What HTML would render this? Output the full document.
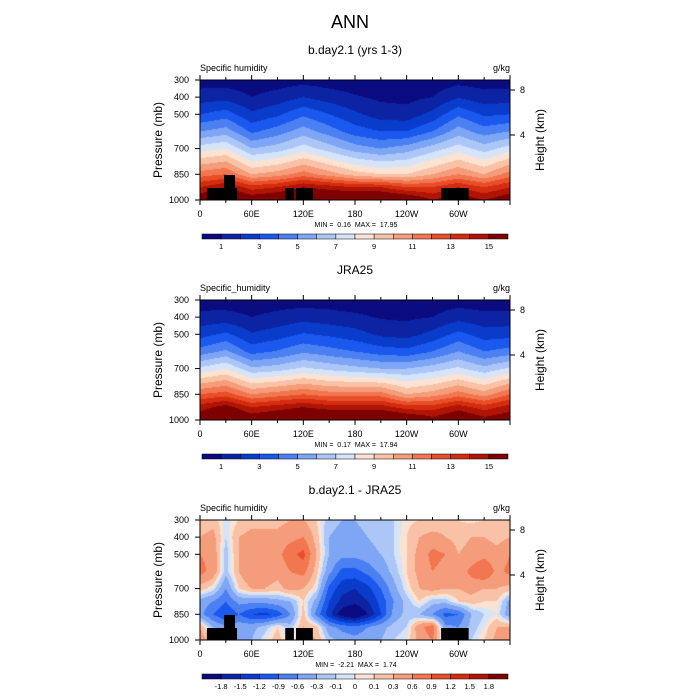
<!DOCTYPE html>
<html><head><meta charset="utf-8"><style>
body{margin:0;background:#fff;}
#wrap{position:relative;width:700px;height:700px;overflow:hidden;font-family:"Liberation Sans",sans-serif;}
canvas{position:absolute;}
svg{position:absolute;left:0;top:0;}
</style></head><body>
<div id="wrap">
<canvas id="c0" width="310" height="120" style="left:200px;top:80px"></canvas>
<canvas id="c1" width="310" height="120" style="left:200px;top:300px"></canvas>
<canvas id="c2" width="310" height="120" style="left:200px;top:520px"></canvas>
<svg id="s" width="700" height="700"></svg>
</div>
<script>
const levels=[300,400,500,600,700,850,925,1000];
const lons13=[0,30,60,90,120,150,180,210,240,270,300,330,360];
const model=[
[0.5,0.5,0.4,0.5,0.6,0.5,0.4,0.3,0.3,0.4,0.6,0.5,0.5],
[1.5,1.6,1.0,1.4,2.0,1.5,1.1,0.8,0.7,1.0,1.9,1.4,1.5],
[3.0,3.5,2.2,2.8,3.8,3.0,2.2,1.5,1.4,2.3,3.8,2.8,3.0],
[5.0,5.5,3.8,4.5,5.5,4.5,3.5,3.0,3.0,4.0,5.5,4.5,5.0],
[7.5,8.0,6.0,6.5,7.5,6.5,5.5,5.0,5.5,6.5,7.5,6.5,7.5],
[11.5,12,10,10.5,11.5,10.5,9.5,9.0,9.0,10,11,10,11.5],
[14,15,13.5,14,15,14.5,14,14,13,13,14,13,14],
[16,17,16,16.5,17,17,17,17,16.5,15,16,15,16]];
const jra=[
[0.5,0.4,0.4,0.5,0.5,0.5,0.4,0.35,0.3,0.4,0.5,0.4,0.5],
[1.3,1.4,1.0,1.3,1.6,1.4,1.2,0.9,0.8,1.0,1.6,1.3,1.3],
[2.6,3.2,2.1,2.5,3.1,2.8,2.4,1.8,1.6,2.3,3.3,2.5,2.6],
[4.4,5.2,3.6,4.1,4.8,4.4,4.0,3.5,3.3,4.0,5.0,4.0,4.4],
[7.2,8.0,6.2,6.5,7.2,6.7,6.3,6.0,6.0,6.5,7.2,6.3,7.2],
[12,12.5,11,11.5,12,11.5,11.5,11.5,10,10.5,11.5,10.5,12],
[14.5,15.5,14,14.5,15,14.5,14.5,14.5,13.5,13.5,14.5,13.5,14.5],
[16,17,16,16.5,17,17,17,17,16.5,15.5,16.5,15.5,16]];
const dLevels=[300,400,500,600,700,775,850,925,1000];
const lons25=[0,15,30,45,60,75,90,105,120,135,150,165,180,195,210,225,240,255,270,285,300,315,330,345,360];
const diff=[
[0.1,0.2,-0.05,0.1,0.2,0.2,0.2,0.3,0.3,0.1,-0.2,-0.3,-0.3,-0.2,-0.1,-0.1,0.05,0.1,0.1,0.2,0.1,0.05,0.1,0.1,0.1],
[0.3,0.4,-0.1,0.3,0.4,0.4,0.4,0.5,0.6,0.2,-0.3,-0.4,-0.4,-0.3,-0.2,-0.1,0.1,0.3,0.4,0.3,0.2,0.3,0.3,0.2,0.3],
[0.6,0.5,-0.2,0.3,0.5,0.5,0.5,0.8,1.0,0.3,-0.3,-0.5,-0.5,-0.4,-0.3,-0.1,0.1,0.4,0.7,0.6,0.3,0.4,0.5,0.4,0.6],
[0.7,0.5,-0.2,0.3,0.6,0.5,0.4,0.6,0.7,0.2,-0.5,-1.0,-1.0,-0.8,-0.5,-0.2,0.1,0.4,0.6,0.5,0.4,0.7,0.9,0.5,0.7],
[0.2,0.0,-0.6,0.1,0.3,0.3,0.2,0.4,0.3,0.0,-1.0,-1.4,-1.5,-1.3,-0.9,-0.4,0.0,0.3,0.4,0.3,0.3,0.4,0.3,0.3,0.2],
[-0.4,-0.6,-0.9,-0.5,-0.5,-0.5,-0.4,-0.3,0.1,-0.4,-1.2,-1.6,-1.7,-1.5,-1.1,-0.6,-0.2,0.1,-0.2,-0.2,0.1,0.2,0.1,0.1,-0.4],
[-0.5,-0.9,-1.2,-0.9,-1.2,-1.3,-1.1,-0.6,0.2,-0.7,-1.4,-2.0,-2.2,-1.8,-1.2,-0.5,-0.2,-0.3,-0.6,-1.0,-0.9,-0.3,-0.1,0,-0.5],
[0.3,-0.3,-0.5,-0.4,-0.4,-0.2,0.1,-0.2,0.3,0.2,-0.5,-0.7,-0.8,-0.6,-0.4,-0.2,-0.1,0.5,0.8,-0.5,-0.6,-0.2,0,0.3,0.3],
[0.5,0.1,-0.3,-0.3,-0.3,0,0.2,-0.1,0.4,0.3,-0.2,-0.4,-0.5,-0.4,-0.3,-0.1,0,0.4,0.6,-0.3,-0.3,-0.1,0.1,0.4,0.5]];
const fullBounds=[1,2,3,4,5,6,7,8,9,10,11,12,13,14,15];
const fullLabels=["1","3","5","7","9","11","13","15"];
const diffBounds=[-1.8,-1.5,-1.2,-0.9,-0.6,-0.3,-0.1,0,0.1,0.3,0.6,0.9,1.2,1.5,1.8];
const diffLabels=["-1.8","-1.5","-1.2","-0.9","-0.6","-0.3","-0.1","0","0.1","0.3","0.6","0.9","1.2","1.5","1.8"];
const palette=["#0b0b80","#0c24a4","#0a3ccc","#1a58ee","#4a80f2","#7ea6f5","#adc6f8","#d6e4fa","#fbe2d2","#f9c2a6","#f59c7a","#f27650","#e84e28","#d42c10","#b01404","#7e0000"];
const topo=[[8,43,930],[28,40.6,854],[99,109,930],[111.5,131,930],[280,312,930]];
const xTickLons=[0,60,120,180,240,300];
const xTickLabels=["0","60E","120E","180","120W","60W"];
const pTicks=[300,400,500,700,850,1000];
const hTicks=[8,4];
const minmax=[["0.16","17.95"],["0.17","17.94"],["-2.21","1.74"]];

const X0=200,X1=510,PH=120;
const xs=l=>X0+l/360*(X1-X0);
const ys=(p,top)=>top+(p-300)/700*PH;
const hY=h=>({8:10,4:55})[h];
function interp(ax,v){let i=0;while(i<ax.length-2&&v>ax[i+1])i++;return [i,(v-ax[i])/(ax[i+1]-ax[i])];}
function sample(grid,lons,levs,lon,p){
 const [i,fx]=interp(lons,lon),[j,fy]=interp(levs,p);
 const a=grid[j][i],b=grid[j][i+1],c=grid[j+1][i],d=grid[j+1][i+1];
 return (a*(1-fx)+b*fx)*(1-fy)+(c*(1-fx)+d*fx)*fy;}
function cidx(v,bounds){let k=0;while(k<bounds.length&&v>=bounds[k])k++;return k;}
function drawField(id,grid,lons,levs,bounds){
 const ctx=document.getElementById(id).getContext('2d');
 for(let px=0;px<310;px++)for(let py=0;py<120;py++){
  const lon=(px+0.5)/310*360,p=300+(py+0.5)/120*700;
  ctx.fillStyle=palette[cidx(sample(grid,lons,levs,lon,p),bounds)];
  ctx.fillRect(px,py,1,1);}
}
drawField('c0',model,lons13,levels,fullBounds);
drawField('c1',jra,lons13,levels,fullBounds);
drawField('c2',diff,lons25,dLevels,diffBounds);

const S=document.getElementById('s'),NS='http://www.w3.org/2000/svg';
function el(t,a,txt){const e=document.createElementNS(NS,t);for(const k in a)e.setAttribute(k,a[k]);if(txt!==undefined)e.textContent=txt;S.appendChild(e);return e;}
let t=el('text',{x:350,y:28,'font-size':18,'text-anchor':'middle'},'ANN');


const titles=["b.day2.1 (yrs 1-3)","JRA25","b.day2.1 - JRA25"];
for(let k=0;k<3;k++){
 const top=80+220*k;
 t=el('text',{x:355,y:top-26,'font-size':12,'text-anchor':'middle'},titles[k]);
 
 
 t=el('text',{x:200,y:top-9,'font-size':9},k==1?'Specific_humidity':'Specific humidity');
 
 
 t=el('text',{x:510,y:top-9,'font-size':9,'text-anchor':'end'},'g/kg');
 
 
 if(k!==1){for(const b of topo){
  const r=el('rect',{x:xs(b[0]),y:ys(b[2],top),width:xs(b[1])-xs(b[0]),height:ys(1000,top)-ys(b[2],top),fill:'#000'});
  
  }}
 const fr=el('rect',{x:X0,y:top,width:X1-X0,height:PH,fill:'none',stroke:'#000','stroke-width':1});
 
 
 for(let l=0;l<=360;l+=30){el('line',{x1:xs(l),x2:xs(l),y1:top+PH,y2:top+PH+(l%60?3:5),stroke:'#000'});el('line',{x1:xs(l),x2:xs(l),y1:top,y2:top-(l%60?3:5),stroke:'#000'});}
 xTickLons.forEach((l,i)=>{t=el('text',{x:xs(l),y:top+PH+17,'font-size':9,'text-anchor':'middle'},xTickLabels[i]);
  
  });
 pTicks.forEach(p=>{el('line',{x1:X0-5,x2:X0,y1:ys(p,top),y2:ys(p,top),stroke:'#000'});
  t=el('text',{x:189,y:ys(p,top)+3,'font-size':9,'text-anchor':'end'},p);
  
  });
 hTicks.forEach(h=>{el('line',{x1:X1,x2:X1+5,y1:top+hY(h),y2:top+hY(h),stroke:'#000'});
  t=el('text',{x:520,y:top+hY(h)+3,'font-size':9},h);
  
  });
 t=el('text',{x:0,y:0,'font-size':12,'text-anchor':'middle',transform:`translate(162,${top+60}) rotate(-90)`},'Pressure (mb)');
 
 
 t=el('text',{x:0,y:0,'font-size':12,'text-anchor':'middle',transform:`translate(544,${top+60}) rotate(-90)`},'Height (km)');
 
 
 t=el('text',{x:356,y:top+PH+27,'font-size':7,'text-anchor':'middle'},`MIN =\u00a0\u00a0${minmax[k][0]}\u00a0\u00a0MAX =\u00a0\u00a0${minmax[k][1]}`);
 
 
 const cbY=top+154,cw=(508-202)/16;
 for(let i=0;i<16;i++){const r=el('rect',{x:202+i*cw,y:cbY,width:cw,height:5,fill:palette[i],stroke:'#000','stroke-width':0.5});
  
  }
 if(k<2){fullLabels.forEach((s,i)=>{t=el('text',{x:202+(2*i+1)*cw,y:cbY+15,'font-size':7.5,'text-anchor':'middle'},s);
  
  });}
 else{diffLabels.forEach((s,i)=>{t=el('text',{x:202+(i+1)*cw,y:cbY+15,'font-size':7.5,'text-anchor':'middle'},s);
  
  });}
}
</script>
</body></html>
